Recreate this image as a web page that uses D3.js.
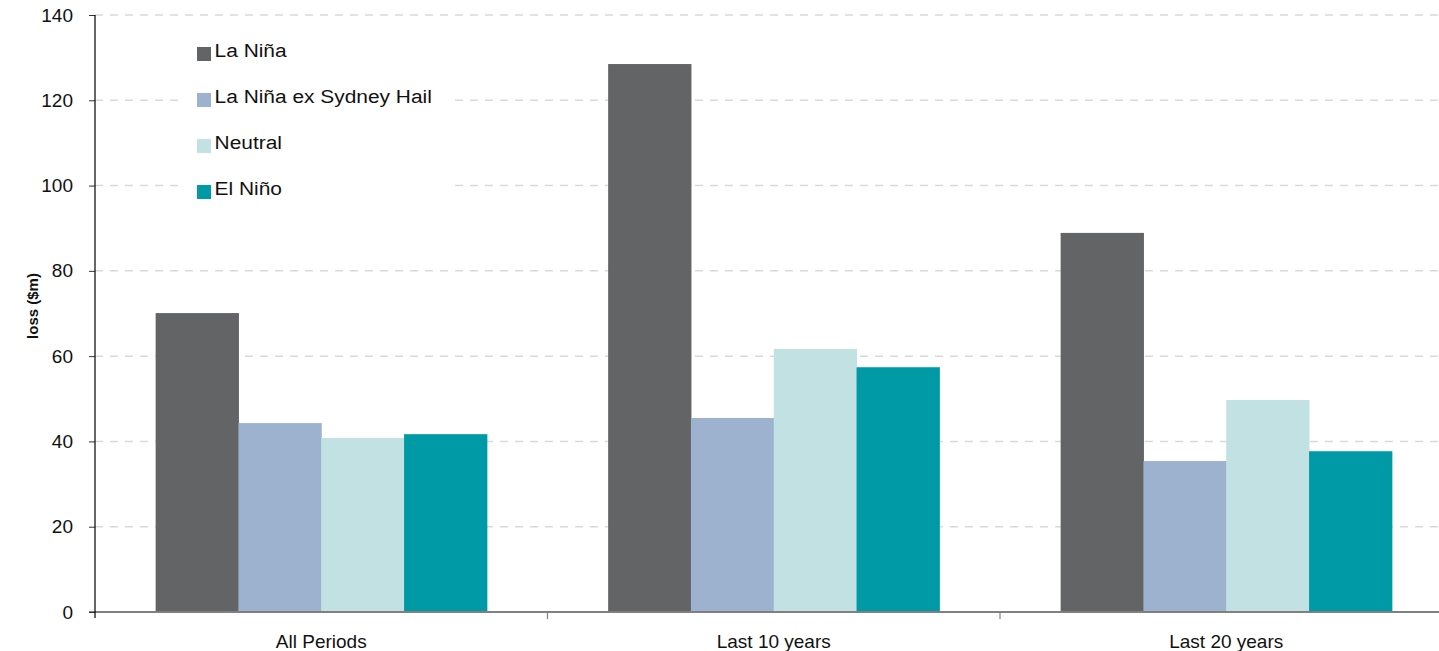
<!DOCTYPE html>
<html>
<head>
<meta charset="utf-8">
<script src="https://cdn.jsdelivr.net/npm/d3@7"></script>
<style>
  body { margin: 0; background: #fff; }
  svg { display: block; font-family: Arial, "Liberation Sans", sans-serif; }
</style>
</head>
<body>
<div id="chart"></div>
<script>
// chart data
const periods = ["All Periods", "Last 10 years", "Last 20 years"];
const seriesNames = ["La Niña", "La Niña ex Sydney Hail", "Neutral", "El Niño"];
const seriesColors = ["#636466", "#9cb2cf", "#c1e1e3", "#009aa6"];
const laNina = [70.1, 128.5, 88.9];
const laNinaExHail = [44.3, 45.5, 35.4];
const neutral = [40.8, 61.7, 49.7];
const elNino = [41.7, 57.4, 37.7];
const yTicks = [0, 20, 40, 60, 80, 100, 120, 140];

const allSeries = [laNina, laNinaExHail, neutral, elNino];

const svgWidth = 1439, svgHeight = 651;
const margin = {top: 15, left: 95};
const plotH = 597, plotW = 1357.5;

const svg = d3.select("#chart").append("svg")
    .attr("width", svgWidth)
    .attr("height", svgHeight);

const x0 = d3.scaleBand().domain(periods).range([margin.left, margin.left + plotW]);
const gap = x0.bandwidth() * 0.134;
const x1 = d3.scaleBand().domain(d3.range(seriesNames.length)).range([gap, x0.bandwidth() - gap]);
const y = d3.scaleLinear().domain([0, 140]).range([margin.top + plotH, margin.top]);

// dashed gridlines
svg.append("g")
  .selectAll("line")
  .data(yTicks.filter(d => d > 0))
  .enter().append("line")
  .attr("x1", margin.left).attr("x2", svgWidth)
  .attr("y1", d => y(d)).attr("y2", d => y(d))
  .attr("stroke", "#d9d9d9")
  .attr("stroke-width", 1.5)
  .attr("stroke-dasharray", "8,7");

// bars
periods.forEach(function(p, i) {
    svg.append("g")
      .attr("transform", "translate(" + x0(p) + ",0)")
      .selectAll("rect")
      .data(allSeries.map((s, k) => ({k: k, v: s[i]})))
      .enter().append("rect")
      .attr("x", d => x1(d.k))
      .attr("width", x1.bandwidth() + 0.5)
      .attr("y", d => y(d.v))
      .attr("height", d => y(0) - y(d.v))
      .attr("fill", d => seriesColors[d.k]);
});

// x axis
const xAxis = svg.append("g")
    .attr("transform", "translate(0," + y(0) + ")");
xAxis.append("line")
    .attr("x1", margin.left - 6).attr("x2", svgWidth)
    .attr("stroke", "#808080").attr("stroke-width", 2);
xAxis.selectAll(".sep")
    .data(periods.slice(1))
    .enter().append("line")
    .attr("x1", d => x0(d)).attr("x2", d => x0(d))
    .attr("y1", 1).attr("y2", 7)
    .attr("stroke", "#808080").attr("stroke-width", 1.2);
xAxis.selectAll("text")
    .data(periods)
    .enter().append("text")
    .attr("x", d => x0(d) + x0.bandwidth() / 2)
    .attr("y", 36)
    .attr("text-anchor", "middle")
    .attr("font-size", 19)
    .attr("fill", "#111")
    .text(d => d);

// y axis
const yAxis = svg.append("g")
    .attr("transform", "translate(" + margin.left + ",0)")
    .call(d3.axisLeft(y).tickValues(yTicks).tickSize(6).tickPadding(16));
yAxis.select(".domain").remove();
yAxis.append("line")
    .attr("x1", 0).attr("x2", 0)
    .attr("y1", y(140)).attr("y2", y(0) + 6)
    .attr("stroke", "#000").attr("stroke-width", 1.2);
yAxis.selectAll(".tick line").attr("stroke", "#333");
yAxis.selectAll(".tick text")
    .attr("font-size", 19)
    .attr("font-family", "Arial, 'Liberation Sans', sans-serif")
    .attr("fill", "#111");

svg.append("text")
    .attr("transform", "translate(38,306) rotate(-90)")
    .attr("text-anchor", "middle")
    .attr("font-size", 15)
    .attr("font-weight", "bold")
    .attr("fill", "#111")
    .text("loss ($m)");

// legend
const legend = svg.append("g").attr("transform", "translate(180,26)");
legend.append("rect")
    .attr("width", 272).attr("height", 180)
    .attr("fill", "#fff");
const rows = legend.selectAll(".row")
    .data(seriesNames)
    .enter().append("g")
    .attr("transform", (d, i) => "translate(17," + (21 + i * 46) + ")");
rows.append("rect")
    .attr("width", 14).attr("height", 14)
    .attr("fill", (d, i) => seriesColors[i]);
rows.append("text")
    .attr("x", 16)
    .attr("y", 10)
    .attr("font-size", 19)
    .attr("fill", "#111")
    .attr("transform", "scale(1.1,1)")
    .text(d => d);
</script>
</body>
</html>
